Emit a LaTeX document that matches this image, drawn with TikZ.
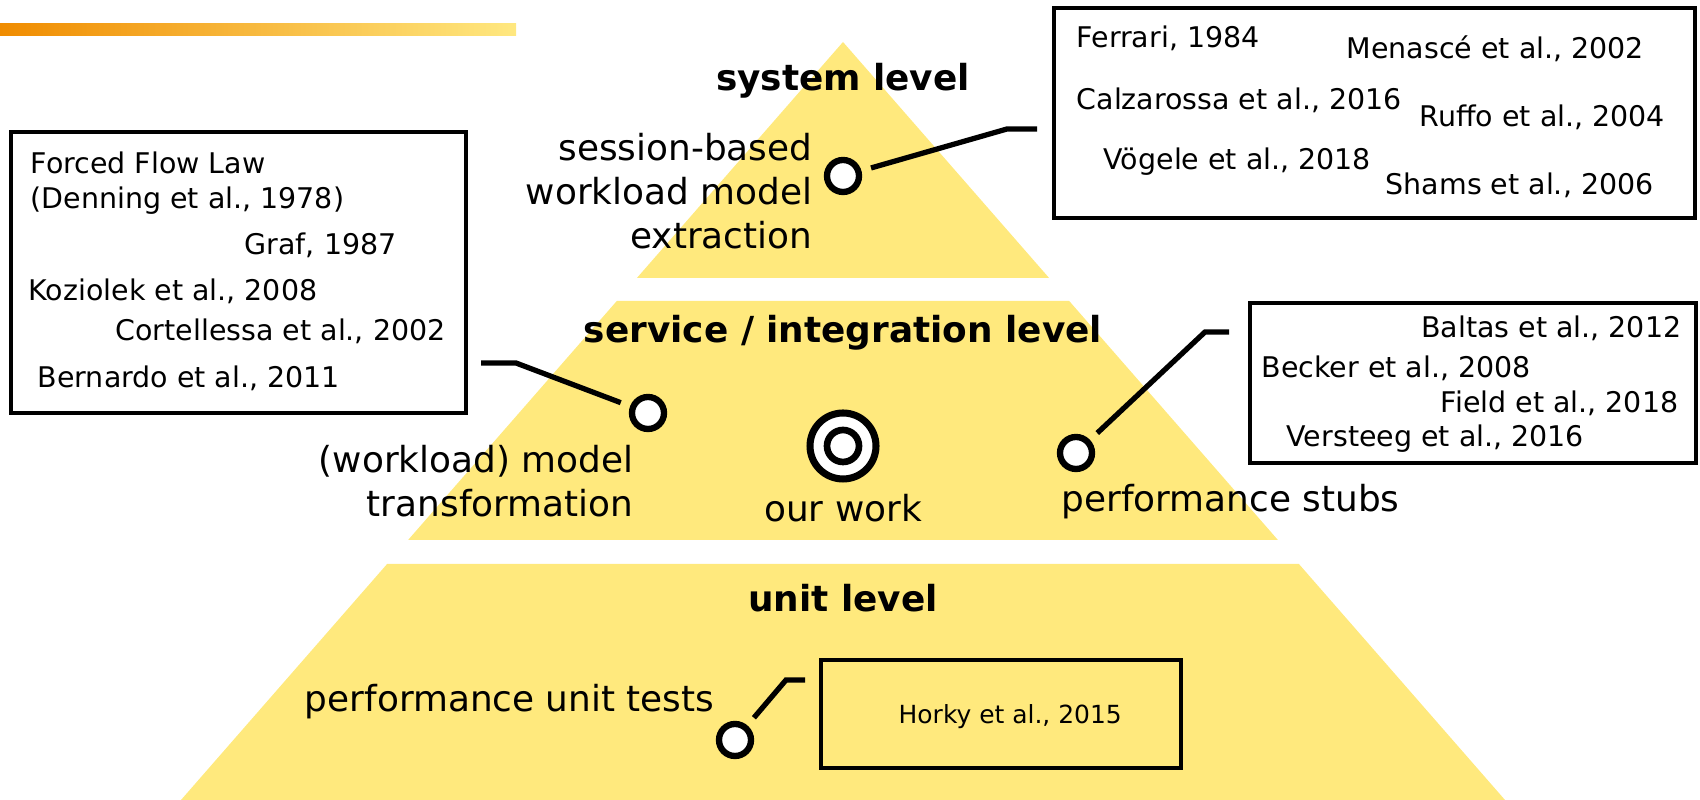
\documentclass[tikz,border=0pt]{standalone}
\usepackage{fontspec}
\setmainfont{DejaVu Sans}
\usepackage{xcolor}
\usetikzlibrary{shapes, positioning}
\definecolor{pyramidyellow}{RGB}{255,233,125}
\definecolor{barorange}{RGB}{240,140,0}
\definecolor{barlight}{RGB}{255,232,128}

\begin{document}
\begin{tikzpicture}[
  tiertitle/.style={font=\fontsize{10.2}{12.4}\selectfont\bfseries, inner sep=0, anchor=base},
  tasklabel/.style={font=\fontsize{10.2}{12.4}\selectfont, inner sep=0},
  citation/.style={font=\fontsize{8.1}{10}\selectfont, inner sep=0, anchor=base west},
  hub/.style={circle, draw, fill=white, line width=1.8pt, minimum size=0.32cm, inner sep=0},
  citebox/.style={rectangle, draw, line width=1.35pt, inner sep=0},
  leader/.style={line width=1.5pt, shorten <=1mm}
]
  \useasboundingbox (0,0) rectangle (17,8);

  \shade[left color=barorange, middle color=barorange!75!barlight, right color=barlight] (0,7.64) rectangle (5.16,7.76);

  \fill[pyramidyellow] (8.43,7.58) -- (10.491,5.22) -- (6.369,5.22) -- cycle;
  \fill[pyramidyellow] (6.168,4.99) -- (10.692,4.99) -- (12.779,2.60) -- (4.081,2.60) -- cycle;
  \fill[pyramidyellow] (3.871,2.36) -- (12.989,2.36) -- (15.050,0) -- (1.810,0) -- cycle;

  \node[tiertitle] (systitle) at (8.43,7.09) {system level};
  \node[tiertitle] (servtitle) at (8.43,4.57) {service / integration level};
  \node[tiertitle] (unittitle) at (8.43,1.88) {unit level};

  \node[tasklabel, align=right, anchor=north east] (sysdesc) at (8.13,6.67) {session-based\\workload model\\extraction};
  \node[tasklabel, align=right, anchor=north east] (wlmdesc) at (6.34,3.55) {(workload) model\\transformation};
  \node[tasklabel, anchor=base] (ourdesc) at (8.43,2.78) {our work};
  \node[tasklabel, anchor=base west] (stubdesc) at (10.61,2.88) {performance stubs};
  \node[tasklabel, anchor=base east] (unitdesc) at (7.15,0.88) {performance unit tests};

  \node[hub] (sysdot) at (8.43,6.24) {};
  \node[hub] (wlmdot) at (6.48,3.87) {};
  \node[hub, minimum size=0.66cm, line width=2pt] (ourdot) at (8.43,3.54) {};
  \node[hub, line width=1.9pt] (ourcore) at (ourdot) {};
  \node[hub] (stubdot) at (10.76,3.47) {};
  \node[hub] (unitdot) at (7.35,0.60) {};

  \node[citebox, minimum width=4.55cm, minimum height=2.81cm] (lawrefs) at (2.385,5.275) {};
  \node[citebox, minimum width=6.41cm, minimum height=2.10cm] (sysrefs) at (13.745,6.87) {};
  \node[citebox, minimum width=4.46cm, minimum height=1.60cm] (stubrefs) at (14.73,4.17) {};
  \node[citebox, minimum width=3.60cm, minimum height=1.08cm] (unitrefs) at (10.01,0.86) {};

  \node[citation, align=left, anchor=north west] (denning) at (0.30,6.49) {Forced Flow Law\\(Denning et al., 1978)};
  \node[citation] (graf) at (2.44,5.45) {Graf, 1987};
  \node[citation] (koziolek) at (0.28,4.99) {Koziolek et al., 2008};
  \node[citation] (cortellessa) at (1.15,4.59) {Cortellessa et al., 2002};
  \node[citation] (bernardo) at (0.37,4.12) {Bernardo et al., 2011};

  \node[citation] (ferrari) at (10.76,7.52) {Ferrari, 1984};
  \node[citation] (menasce) at (13.46,7.41) {Menascé et al., 2002};
  \node[citation] (calzarossa) at (10.76,6.90) {Calzarossa et al., 2016};
  \node[citation] (ruffo) at (14.19,6.73) {Ruffo et al., 2004};
  \node[citation] (voegele) at (11.03,6.30) {Vögele et al., 2018};
  \node[citation] (shams) at (13.85,6.05) {Shams et al., 2006};

  \node[citation, anchor=base east] (baltas) at (16.82,4.62) {Baltas et al., 2012};
  \node[citation] (becker) at (12.61,4.22) {Becker et al., 2008};
  \node[citation, anchor=base east] (field) at (16.79,3.87) {Field et al., 2018};
  \node[citation] (versteeg) at (12.86,3.53) {Versteeg et al., 2016};

  \node[citation, font=\fontsize{7.1}{9}\selectfont] (horky) at (8.98,0.76) {Horky et al., 2015};

  \coordinate (sysbend) at (10.07,6.71);
  \coordinate (sysend) at (10.37,6.71);
  \coordinate (wlmbend) at (5.16,4.37);
  \coordinate (wlmend) at (4.81,4.37);
  \coordinate (stubbend) at (12.05,4.68);
  \coordinate (stubend) at (12.29,4.68);
  \coordinate (unitbend) at (7.86,1.20);
  \coordinate (unitend) at (8.05,1.20);

  \draw[leader] (sysdot) -- (sysbend) -- (sysend);
  \draw[leader] (wlmdot) -- (wlmbend) -- (wlmend);
  \draw[leader] (stubdot) -- (stubbend) -- (stubend);
  \draw[leader] (unitdot) -- (unitbend) -- (unitend);
\end{tikzpicture}
\end{document}
